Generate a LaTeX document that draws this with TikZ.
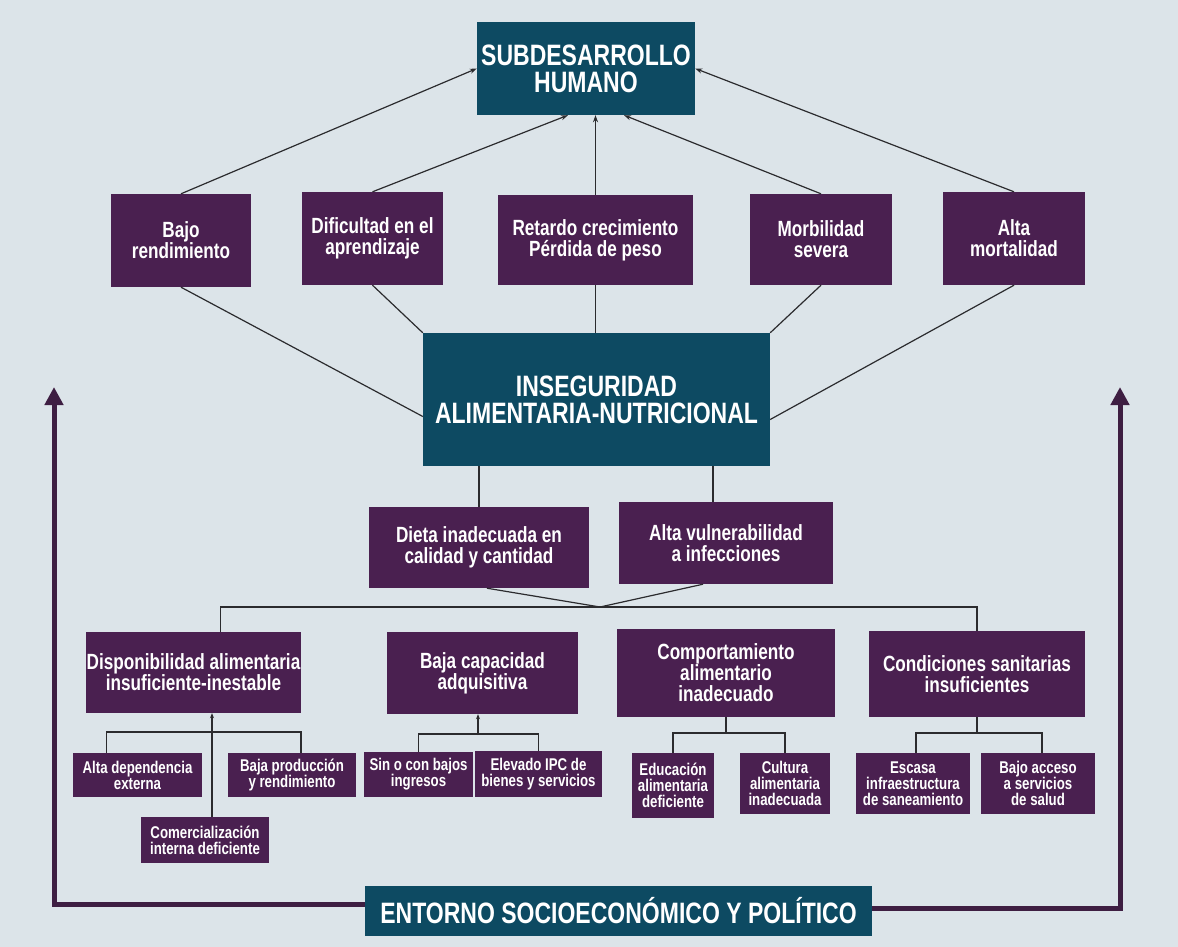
\documentclass[tikz,border=0pt]{standalone}
\usepackage{fontspec}
\setmainfont{Liberation Sans}[FakeStretch=0.78]
\usetikzlibrary{arrows.meta,calc}
\definecolor{bg}{HTML}{DCE4E9}
\definecolor{plum}{HTML}{4A2050}
\definecolor{tealbox}{HTML}{0D4A62}
\definecolor{linec}{HTML}{2B2B2E}
\definecolor{framec}{HTML}{3E1E42}
\tikzset{
  box/.style={fill=plum, text=white, inner sep=0pt, align=center, font=\bfseries\fontsize{22}{21}\selectfont},
  bigbox/.style={box, fill=tealbox, font=\bfseries\fontsize{29.5}{27}\selectfont},
  smallbox/.style={box, font=\bfseries\fontsize{17}{16}\selectfont},
  link/.style={draw=linec, line width=1.2pt},
  arr/.style={link, -{Stealth[length=7pt,width=5pt]}},
  brack/.style={draw=linec, line width=1.5pt},
  framearr/.style={draw=framec, line width=5pt, -{Triangle[length=18pt,width=18pt]}}
}
\begin{document}
\begin{tikzpicture}[x=1pt,y=-1pt]
\fill[bg] (0,0) rectangle (1178,947);
\useasboundingbox (0,0) rectangle (1178,947);

% top
\node[bigbox, minimum width=218pt, minimum height=93pt] (sub) at (586,68.5) {SUBDESARROLLO\\HUMANO};

% effects
\node[box, minimum width=140pt, minimum height=93pt] (bajo) at (181,240.5) {Bajo\\rendimiento};
\node[box, minimum width=141pt, minimum height=93pt] (dif) at (372.5,238.5) {Dificultad en el\\aprendizaje};
\node[box, minimum width=195pt, minimum height=90pt] (ret) at (595.5,240) {Retardo crecimiento\\Pérdida de peso};
\node[box, minimum width=142pt, minimum height=91pt] (morb) at (821,239.5) {Morbilidad\\severa};
\node[box, minimum width=142pt, minimum height=93pt] (alta) at (1014,238.5) {Alta\\mortalidad};

% central
\node[bigbox, minimum width=347pt, minimum height=133pt] (inseg) at (596.5,399.5) {INSEGURIDAD\\ALIMENTARIA-NUTRICIONAL};

% immediate causes
\node[box, minimum width=220pt, minimum height=81pt] (dieta) at (479,547.5) {Dieta inadecuada en\\calidad y cantidad};
\node[box, minimum width=214pt, minimum height=82pt] (vuln) at (726,543) {Alta vulnerabilidad\\a infecciones};

% underlying causes
\node[box, minimum width=215pt, minimum height=81pt] (disp) at (193.5,672.5) {Disponibilidad alimentaria\\insuficiente-inestable};
\node[box, minimum width=191pt, minimum height=82pt] (baja) at (482.5,673) {Baja capacidad\\adquisitiva};
\node[box, minimum width=218pt, minimum height=88pt] (comp) at (726,673) {Comportamiento\\alimentario\\inadecuado};
\node[box, minimum width=216pt, minimum height=86pt] (cond) at (977,674) {Condiciones sanitarias\\insuficientes};

% basic causes
\node[smallbox, minimum width=129pt, minimum height=44pt] (altadep) at (137.5,775) {Alta dependencia\\externa};
\node[smallbox, minimum width=128pt, minimum height=44pt] (bajaprod) at (292,775) {Baja producción\\y rendimiento};
\node[smallbox, minimum width=128pt, minimum height=46pt] (comerc) at (205,840) {Comercialización\\interna deficiente};
\node[smallbox, minimum width=109pt, minimum height=45pt] (sin) at (418.5,774.5) {Sin o con bajos\\ingresos};
\node[smallbox, minimum width=127pt, minimum height=46pt] (ipc) at (538.5,774) {Elevado IPC de\\bienes y servicios};
\node[smallbox, minimum width=82pt, minimum height=65pt] (edu) at (673,785.5) {Educación\\alimentaria\\deficiente};
\node[smallbox, minimum width=90pt, minimum height=61pt] (cult) at (785,783.5) {Cultura\\alimentaria\\inadecuada};
\node[smallbox, minimum width=114pt, minimum height=61pt] (esc) at (913,783.5) {Escasa\\infraestructura\\de saneamiento};
\node[smallbox, minimum width=114pt, minimum height=61pt] (bajoacc) at (1038,783.5) {Bajo acceso\\a servicios\\de salud};

% environment
\node[bigbox, minimum width=507pt, minimum height=50pt] (ent) at (618.5,911) {ENTORNO SOCIOECONÓMICO Y POLÍTICO};

% coordinates
\coordinate (j) at (600,607);
\coordinate (lt) at (54,387);
\coordinate (rt) at (1120,387);
\coordinate (dtop) at ($(disp.north)+(27,0)$);
\coordinate (ctop) at ($(comerc.north)+(7,0)$);
\coordinate (bbot) at ($(baja.south)+(-4.5,0)$);
\coordinate (vtop) at ($(vuln.north)+(-13,0)$);

% effects -> subdesarrollo
\draw[arr] (bajo.north) -- (sub.west);
\draw[arr] (dif.north) -- ($(sub.south)+(-18,0)$);
\draw[arr] (ret.north) -- (ret.north |- sub.south);
\draw[arr] (morb.north) -- ($(sub.south)+(38,0)$);
\draw[arr] (alta.north) -- (sub.east);

% inseguridad -> effects
\draw[link] (bajo.south) -- ($(inseg.west)+(0,17)$);
\draw[link] (dif.south) -- (inseg.north west);
\draw[link] (ret.south) -- (ret.south |- inseg.north);
\draw[link] (morb.south) -- (inseg.north east);
\draw[link] (alta.south) -- ($(inseg.east)+(0,20)$);

% inseguridad -> immediate causes
\draw[link] (inseg.south -| dieta.north) -- (dieta.north);
\draw[link] (inseg.south -| vtop) -- (vtop);

% immediate causes -> junction
\draw[link] ($(dieta.south)+(8,0)$) -- (j);
\draw[link] ($(vuln.south)+(-23,0)$) -- (j);
\draw[link] (dtop) -- (dtop |- j) -- (cond.north |- j) -- (cond.north);

% disponibilidad group
\draw[link, -{Stealth[length=5pt,width=4pt]}] (ctop) -- (ctop |- disp.south);
\draw[brack] ($(altadep.north)+(-31,0)$) -- ++(0,-21) -| ($(bajaprod.north)+(9,0)$);

% baja capacidad group
\draw[link, -{Stealth[length=5pt,width=4pt]}] ($(bbot)+(0,21)$) -- (bbot);
\draw[brack] (sin.north) -- ++(0,-18) -| (ipc.north);

% comportamiento group
\draw[brack] (comp.south) -- ++(0,16);
\draw[brack] (edu.north) -- ++(0,-20) -| (cult.north);

% condiciones group
\draw[brack] (cond.south) -- ++(0,16);
\draw[brack] ($(esc.north)+(3,0)$) -- ++(0,-20) -| ($(bajoacc.north)+(4,0)$);

% environment frame
\draw[framearr] ($(ent.west)+(0,-7)$) -| (lt);
\draw[framearr] ($(ent.east)+(0,-3)$) -| (rt);
\end{tikzpicture}
\end{document}
